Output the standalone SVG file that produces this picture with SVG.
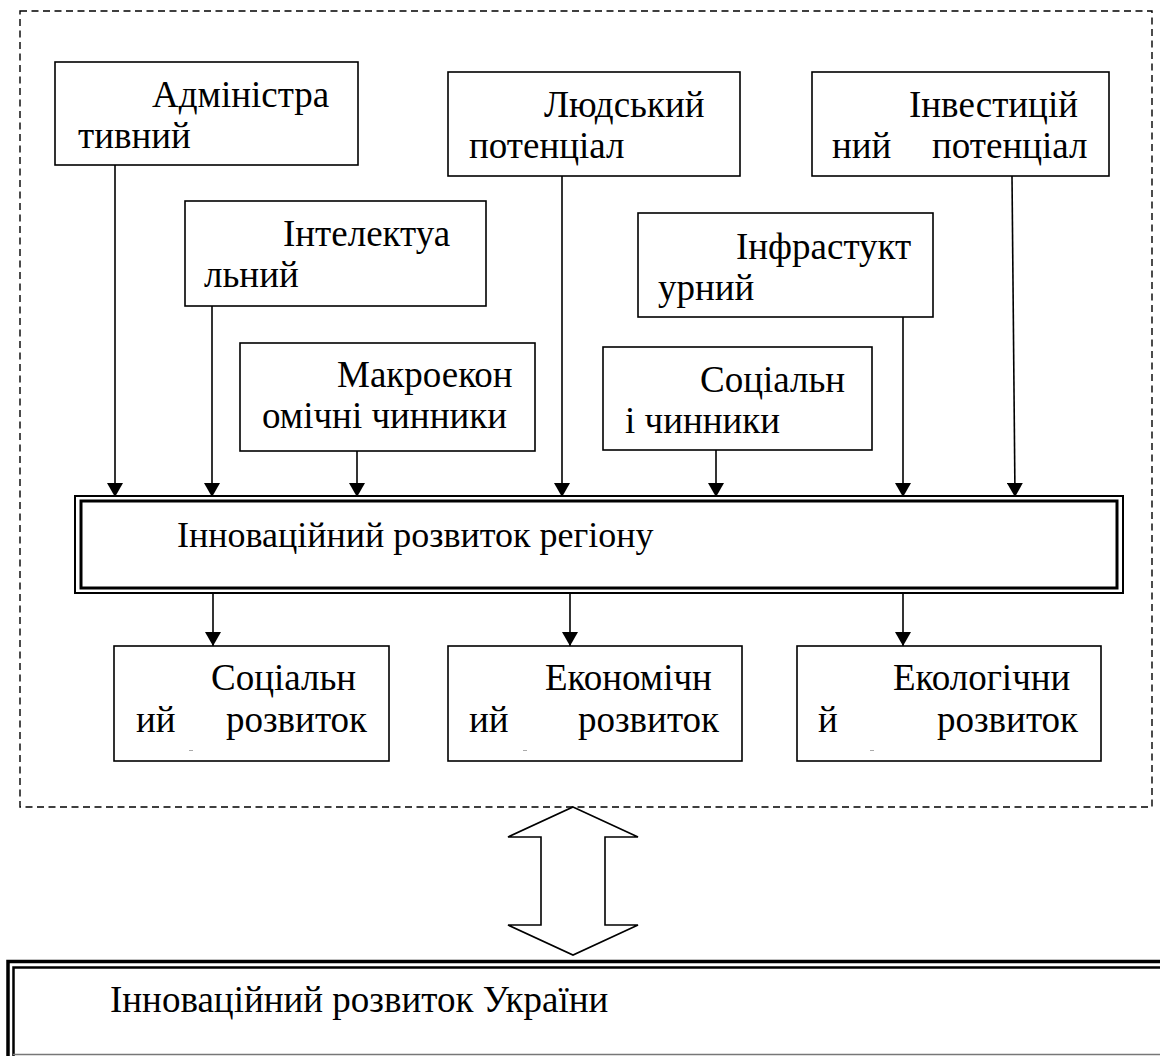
<svg xmlns="http://www.w3.org/2000/svg" width="1160" height="1056" viewBox="0 0 1160 1056">
<style>
.box{fill:#fff;stroke:#000;stroke-width:1.6}
text{font-family:'Liberation Serif','Times New Roman',serif;font-size:37px;font-weight:400;fill:#000}
.c{stroke:#000;stroke-width:1.6;fill:none}
</style>
<defs>
<marker id="ah" markerWidth="14" markerHeight="16" refX="14" refY="8" orient="auto" markerUnits="userSpaceOnUse" viewBox="0 0 14 16">
<path d="M0,0 L14,8 L0,16 Z" fill="#000"/>
</marker>
</defs>
<rect width="1160" height="1056" fill="#fff"/>
<g id="frame">
<rect x="20" y="11" width="1132" height="796" fill="none" stroke="#000" stroke-width="1.4" stroke-dasharray="7,4.5"/>
</g>
<g id="connectors">
<line class="c" x1="115" y1="165" x2="115" y2="497" marker-end="url(#ah)"/>
<line class="c" x1="212" y1="306" x2="212" y2="497" marker-end="url(#ah)"/>
<line class="c" x1="357" y1="451" x2="357" y2="497" marker-end="url(#ah)"/>
<line class="c" x1="562" y1="176" x2="562" y2="497" marker-end="url(#ah)"/>
<line class="c" x1="716" y1="450" x2="716" y2="497" marker-end="url(#ah)"/>
<line class="c" x1="903" y1="317" x2="903" y2="497" marker-end="url(#ah)"/>
<line class="c" x1="1012" y1="176" x2="1015" y2="497" marker-end="url(#ah)"/>
<line class="c" x1="213" y1="594" x2="213" y2="646" marker-end="url(#ah)"/>
<line class="c" x1="570" y1="594" x2="570" y2="646" marker-end="url(#ah)"/>
<line class="c" x1="903" y1="594" x2="903" y2="646" marker-end="url(#ah)"/>
<polygon id="double-arrow" points="573,807 638,837 605,837 605,925 638,925 573,955 508,925 541,925 541,837 508,837" fill="#fff" stroke="#000" stroke-width="1.6"/>
</g>
<g id="n-admin">
<rect class="box" x="55" y="62" width="303" height="103"/>
<text x="152" y="107">Адміністра</text>
<text x="78" y="148">тивний</text>
</g>
<g id="n-intel">
<rect class="box" x="185" y="201" width="301" height="105"/>
<text x="283" y="246">Інтелектуа</text>
<text x="204" y="287">льний</text>
</g>
<g id="n-human">
<rect class="box" x="448" y="72" width="292" height="104"/>
<text x="544" y="117">Людський</text>
<text x="469" y="158">потенціал</text>
</g>
<g id="n-invest">
<rect class="box" x="812" y="72" width="297" height="104"/>
<text x="909" y="117">Інвестицій</text>
<text x="832" y="158">ний</text>
<text x="932" y="158">потенціал</text>
</g>
<g id="n-infra">
<rect class="box" x="638" y="213" width="295" height="104"/>
<text x="736" y="259">Інфрастукт</text>
<text x="658" y="300">урний</text>
</g>
<g id="n-macro">
<rect class="box" x="240" y="343" width="295" height="108"/>
<text x="337" y="387">Макроекон</text>
<text x="262" y="428">омічні чинники</text>
</g>
<g id="n-social">
<rect class="box" x="603" y="347" width="269" height="103"/>
<text x="700" y="392">Соціальн</text>
<text x="625" y="433">і чинники</text>
</g>
<g id="n-region">
<rect x="75" y="496" width="1048" height="97" fill="#fff" stroke="#000" stroke-width="2"/>
<rect x="81" y="501" width="1036" height="87" fill="none" stroke="#000" stroke-width="3"/>
<text x="177" y="547" style="font-size:36px">Інноваційний розвиток регіону</text>
</g>
<g id="n-soc-dev">
<rect class="box" x="114" y="646" width="275" height="115"/>
<text x="211" y="690">Соціальн</text>
<text x="136" y="732">ий</text>
<text x="226" y="732">розвиток</text>
<line x1="189" y1="750.5" x2="193" y2="750.5" stroke="#aaa" stroke-width="1"/>
</g>
<g id="n-eco-dev">
<rect class="box" x="448" y="646" width="294" height="115"/>
<text x="545" y="690">Економічн</text>
<text x="469" y="732">ий</text>
<text x="578" y="732">розвиток</text>
<line x1="523" y1="750.5" x2="527" y2="750.5" stroke="#aaa" stroke-width="1"/>
</g>
<g id="n-ecol-dev">
<rect class="box" x="797" y="646" width="304" height="115"/>
<text x="893" y="690">Екологічни</text>
<text x="818" y="732">й</text>
<text x="937" y="732">розвиток</text>
<line x1="870" y1="750.5" x2="874" y2="750.5" stroke="#aaa" stroke-width="1"/>
</g>
<g id="n-ukraine">
<path d="M8,1060 V961.5 H1170" fill="none" stroke="#000" stroke-width="3.5"/>
<path d="M13.5,1060 V967.5 H1170" fill="none" stroke="#000" stroke-width="2.5"/>
<line x1="13" y1="1054.5" x2="1160" y2="1054.5" stroke="#777" stroke-width="1.5"/>
<text x="110" y="1012">Інноваційний розвиток України</text>
</g>
</svg>
